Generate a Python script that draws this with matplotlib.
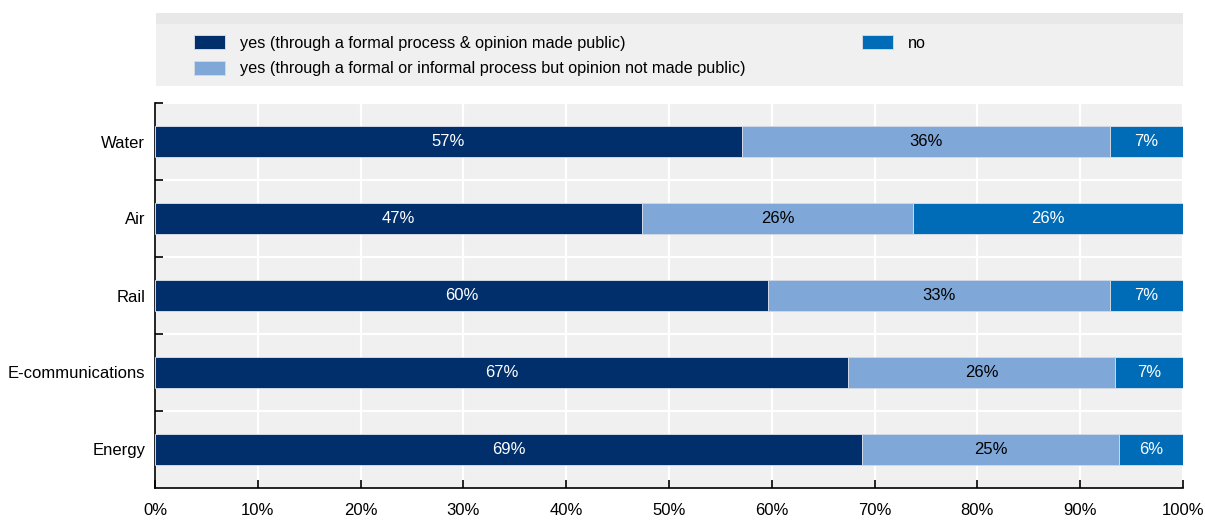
import numpy as np
import matplotlib
matplotlib.use('Agg')
import matplotlib.pyplot as plt
from matplotlib.patches import Rectangle

# 데이터 (위에서 아래 순서)
sectors = ['Water', 'Air', 'Rail', 'E-communications', 'Energy']
yes_public = [57.1, 47.4, 59.6, 67.4, 68.8]
yes_not_public = [35.8, 26.3, 33.3, 26.0, 25.0]
no_answer = [7.1, 26.3, 7.1, 6.6, 6.2]

series_names = ['yes (through a formal process & opinion made public)',
                'yes (through a formal or informal process but opinion not made public)',
                'no']
colors = ['#002F6C', '#7FA8D9', '#006BB6']
label_colors = ['white', 'black', 'white']
x_ticks = [0, 10, 20, 30, 40, 50, 60, 70, 80, 90, 100]

plt.rcParams['font.family'] = ['Liberation Sans', 'DejaVu Sans']
plt.rcParams['font.size'] = 12

fig = plt.figure(figsize=(12.05, 5.23), dpi=100)
ax = fig.add_axes([155 / 1205, 35 / 523, 1028 / 1205, 385 / 523])
ax.set_facecolor('#f0f0f0')

# 범례 배경
fig.patches.append(Rectangle((156 / 1205, 1 - 86 / 523), 1027 / 1205, 73 / 523,
                             transform=fig.transFigure, facecolor='#f0f0f0',
                             edgecolor='none', zorder=0))
fig.patches.append(Rectangle((156 / 1205, 1 - 24 / 523), 1027 / 1205, 11 / 523,
                             transform=fig.transFigure, facecolor='#e8e8e8',
                             edgecolor='none', zorder=0))

y = np.arange(len(sectors))
left = np.zeros(len(sectors))
for vals, name, col, lc in zip([yes_public, yes_not_public, no_answer],
                               series_names, colors, label_colors):
    vals = np.array(vals)
    bars = ax.barh(y, vals, left=left, height=0.39, color=col, label=name,
                   edgecolor='#d0d8e4', linewidth=0.7, zorder=3)
    ax.bar_label(bars, labels=[f'{v:.0f}%' for v in vals], label_type='center',
                 color=lc, fontsize=12)
    left += vals

ax.set_xlim(0, 100)
ax.set_ylim(len(sectors) - 0.5, -0.5)
ax.set_xticks(x_ticks)
ax.set_xticklabels([f'{t}%' for t in x_ticks])
ax.set_yticks(y)
ax.set_yticklabels(sectors)
ax.set_yticks(np.arange(len(sectors)) - 0.5, minor=True)

ax.grid(axis='x', color='white', linewidth=1.6, zorder=1)
ax.grid(axis='y', which='minor', color='white', linewidth=1.6, zorder=1)
ax.set_axisbelow(True)

for s in ['top', 'right']:
    ax.spines[s].set_visible(False)
for s in ['left', 'bottom']:
    ax.spines[s].set_color('black')
    ax.spines[s].set_linewidth(1.2)

ax.tick_params(axis='x', direction='in', length=6, width=1.2, pad=11, colors='black')
ax.tick_params(axis='y', which='major', length=0, pad=7)
ax.tick_params(axis='y', which='minor', direction='in', length=6, width=1.2)

fig.legend(loc='upper left', bbox_to_anchor=(194 / 1205, 1 - 35 / 523), ncol=2,
           frameon=False, fontsize=11.7, borderpad=0, borderaxespad=0,
           handlelength=1.9, handleheight=0.95, handletextpad=0.9,
           labelspacing=0.62, columnspacing=7.2)

fig.savefig('out.png', dpi=100)
